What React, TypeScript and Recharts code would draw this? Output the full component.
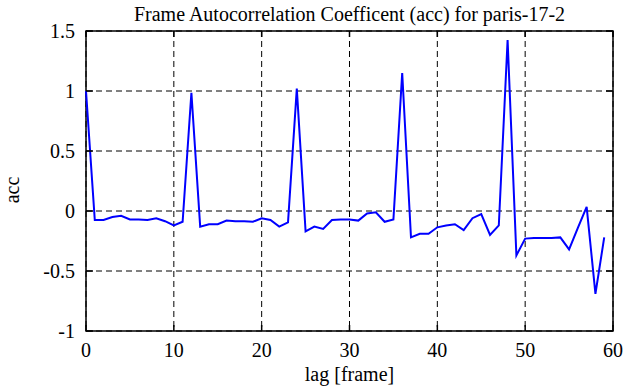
import { LineChart, Line, XAxis, YAxis, CartesianGrid, ReferenceArea } from "recharts";

const lags = [
  0, 1, 2, 3, 4, 5, 6, 7, 8, 9,
  10, 11, 12, 13, 14, 15, 16, 17, 18, 19,
  20, 21, 22, 23, 24, 25, 26, 27, 28, 29,
  30, 31, 32, 33, 34, 35, 36, 37, 38, 39,
  40, 41, 42, 43, 44, 45, 46, 47, 48, 49,
  50, 51, 52, 53, 54, 55, 56, 57, 58, 59,
];

const acc = [
  1.0, -0.075, -0.075, -0.05, -0.04, -0.07, -0.07, -0.075, -0.06, -0.085,
  -0.12, -0.09, 0.985, -0.13, -0.11, -0.11, -0.08, -0.085, -0.085, -0.09,
  -0.06, -0.075, -0.13, -0.095, 1.02, -0.17, -0.13, -0.15, -0.075, -0.07,
  -0.07, -0.08, -0.02, -0.01, -0.09, -0.07, 1.15, -0.22, -0.19, -0.19,
  -0.136, -0.12, -0.11, -0.16, -0.06, -0.025, -0.2, -0.12, 1.425, -0.37,
  -0.23, -0.225, -0.225, -0.225, -0.22, -0.32, -0.14, 0.035, -0.69, -0.22,
];

const xTicks = [0, 10, 20, 30, 40, 50, 60];
const yTicks = [-1, -0.5, 0, 0.5, 1, 1.5];

const data = lags.map((lag, i) => ({ lag, acc: acc[i] }));

const FONT = '"Liberation Serif", "Times New Roman", serif';
const PLOT_W = 527;
const PLOT_H = 300;
const TICK = 6;
const textStyle = { fontFamily: FONT, fontSize: 20, fill: "#000" };

const XTick = ({ x, y, payload }: any) => (
  <g>
    <line x1={x} y1={y} x2={x} y2={y - TICK} stroke="#000" strokeWidth={1.5} />
    <line x1={x} y1={y - PLOT_H} x2={x} y2={y - PLOT_H + TICK} stroke="#000" strokeWidth={1.5} />
    <text x={x} y={y + 26} textAnchor="middle" style={textStyle}>
      {payload.value}
    </text>
  </g>
);

const YTick = ({ x, y, payload }: any) => (
  <g>
    <line x1={x} y1={y} x2={x + TICK + 1} y2={y} stroke="#000" strokeWidth={1.5} />
    <line x1={x + PLOT_W} y1={y} x2={x + PLOT_W - TICK - 1} y2={y} stroke="#000" strokeWidth={1.5} />
    <text x={x - 11} y={y + 7} textAnchor="end" style={textStyle}>
      {payload.value}
    </text>
  </g>
);

export default function App() {
  return (
    <div style={{ position: "absolute", left: 0, top: 0, width: 625, height: 387, background: "#fff", fontFamily: FONT }}>
      <div
        style={{
          position: "absolute",
          left: 86,
          top: 3,
          width: PLOT_W,
          textAlign: "center",
          fontFamily: FONT,
          fontSize: 20,
          lineHeight: "22px",
          color: "#000",
        }}
      >
        Frame Autocorrelation Coefficent (acc) for paris-17-2
      </div>
      <LineChart
        width={625}
        height={387}
        data={data}
        margin={{ top: 31, right: 12, bottom: 0, left: 0 }}
        style={{ fontFamily: FONT }}
      >
        <CartesianGrid stroke="#000" strokeDasharray="6 4" strokeWidth={1} />
        <XAxis
          type="number"
          dataKey="lag"
          domain={[0, 60]}
          ticks={xTicks}
          interval={0}
          height={56}
          tickSize={0}
          tickMargin={0}
          axisLine={false}
          tickLine={false}
          tick={XTick}
          label={{ value: "lag [frame]", position: "insideBottom", offset: 6, fill: "#000", fontSize: 20, fontFamily: FONT }}
        />
        <YAxis
          type="number"
          domain={[-1, 1.5]}
          ticks={yTicks}
          interval={0}
          width={86}
          tickSize={0}
          tickMargin={0}
          axisLine={false}
          tickLine={false}
          tick={YTick}
          label={{
            content: () => (
              <text x={19} y={190} transform="rotate(-90 19 190)" textAnchor="middle" style={textStyle}>
                acc
              </text>
            ),
          }}
        />
        <ReferenceArea x1={0} x2={60} y1={-1} y2={1.5} fill="none" stroke="#000" strokeWidth={1.5} fillOpacity={0} />
        <Line
          type="linear"
          dataKey="acc"
          stroke="#0000ff"
          strokeWidth={2}
          dot={false}
          isAnimationActive={false}
        />
      </LineChart>
    </div>
  );
}
